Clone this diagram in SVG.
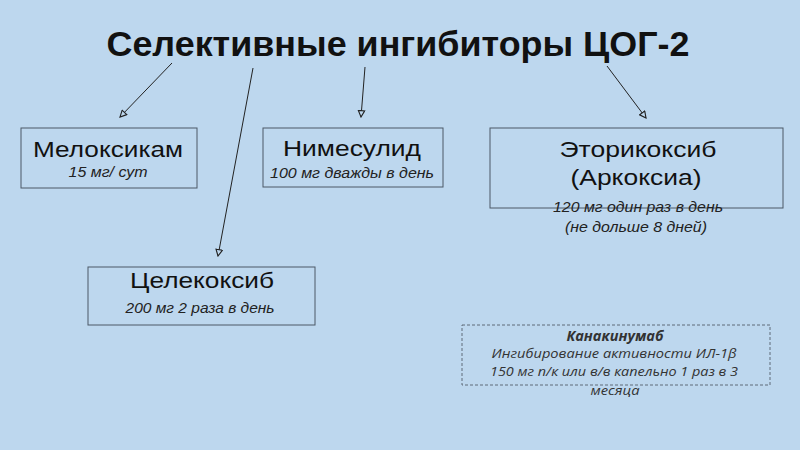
<svg xmlns="http://www.w3.org/2000/svg" width="800" height="450" viewBox="0 0 800 450">
<defs>
<style>
.box{fill:none;stroke:#4d5966;stroke-width:1}
.dash{fill:none;stroke:#5f6b78;stroke-width:1;stroke-dasharray:3,2}
.name{font-family:"Liberation Sans",Arial,sans-serif;font-size:21.5px;fill:#111;text-anchor:middle}
.dose{font-family:"Liberation Sans",Arial,sans-serif;font-size:14.5px;font-style:italic;fill:#222;text-anchor:middle}
.note{font-family:"Open Sans","Liberation Sans",sans-serif;font-size:13.5px;font-style:italic;fill:#333;text-anchor:middle}
.conn{stroke:#222;stroke-width:1;fill:none;marker-end:url(#arr)}
</style>
<marker id="arr" viewBox="0 0 10 10" refX="9" refY="5" markerWidth="8" markerHeight="8" orient="auto" markerUnits="userSpaceOnUse">
<path d="M1,1 L9,5 L1,9 Z" fill="#bdd7ee" stroke="#222" stroke-width="1.4"/>
</marker>
</defs>
<rect width="800" height="450" fill="#bdd7ee"/>
<g id="title">
<text x="398" y="56" font-family="'Liberation Sans',Arial,sans-serif" font-weight="bold" font-size="35" fill="#111" text-anchor="middle" textLength="583" lengthAdjust="spacingAndGlyphs">Селективные ингибиторы ЦОГ-2</text>
</g>
<g id="connectors">
<line class="conn" x1="172" y1="63" x2="120" y2="117"/>
<line class="conn" x1="253" y1="68" x2="218" y2="256"/>
<line class="conn" x1="365" y1="67" x2="361" y2="117"/>
<line class="conn" x1="607" y1="66" x2="646" y2="118"/>
</g>
<g id="meloxicam">
<rect class="box" x="21" y="128" width="176" height="60"/>
<text class="name" x="108" y="157" textLength="150" lengthAdjust="spacingAndGlyphs">Мелоксикам</text>
<text class="dose" x="108" y="177" textLength="79" lengthAdjust="spacingAndGlyphs">15 мг/ сут</text>
</g>
<g id="nimesulide">
<rect class="box" x="263" y="128" width="180" height="59"/>
<text class="name" x="352" y="156" textLength="138" lengthAdjust="spacingAndGlyphs">Нимесулид</text>
<text class="dose" x="352" y="178" textLength="164" lengthAdjust="spacingAndGlyphs">100 мг дважды в день</text>
</g>
<g id="etoricoxib">
<rect class="box" x="490" y="128" width="293" height="80"/>
<text class="name" x="638" y="157" textLength="157" lengthAdjust="spacingAndGlyphs">Эторикоксиб</text>
<text class="name" x="636" y="185" textLength="131" lengthAdjust="spacingAndGlyphs">(Аркоксиа)</text>
<text class="dose" x="638" y="212" textLength="170" lengthAdjust="spacingAndGlyphs">120 мг один раз в день</text>
<text class="dose" x="636" y="232" textLength="142" lengthAdjust="spacingAndGlyphs">(не дольше 8 дней)</text>
</g>
<g id="celecoxib">
<rect class="box" x="88" y="267" width="227" height="58"/>
<text class="name" x="202" y="288" textLength="144" lengthAdjust="spacingAndGlyphs">Целекоксиб</text>
<text class="dose" x="200" y="313" textLength="149" lengthAdjust="spacingAndGlyphs">200 мг 2 раза в день</text>
</g>
<g id="canakinumab">
<rect class="dash" x="462" y="325" width="308" height="60"/>
<text class="note" x="615" y="341" font-weight="bold" fill="#111" textLength="97" lengthAdjust="spacingAndGlyphs">Канакинумаб</text>
<text class="note" x="614" y="358" textLength="245" lengthAdjust="spacingAndGlyphs">Ингибирование активности ИЛ-1β</text>
<text class="note" x="614" y="376" textLength="248" lengthAdjust="spacingAndGlyphs">150 мг п/к или в/в капельно 1 раз в 3</text>
<text class="note" x="615" y="395" textLength="49" lengthAdjust="spacingAndGlyphs">месяца</text>
</g>
</svg>
